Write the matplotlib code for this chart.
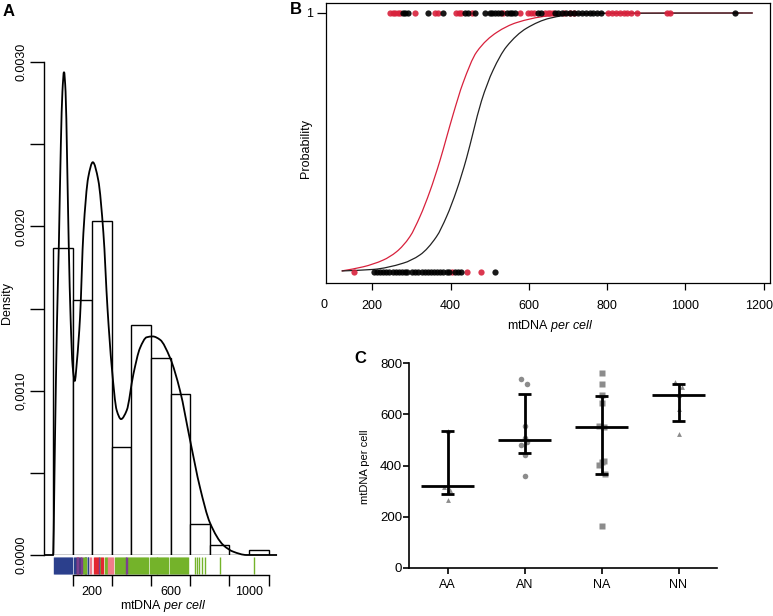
import matplotlib
matplotlib.use("Agg")
import matplotlib.pyplot as plt
from matplotlib.path import Path
from matplotlib.patches import PathPatch
import matplotlib.transforms as mtransforms

plt.rcParams['font.family'] = ['Liberation Sans', 'DejaVu Sans']
plt.rcParams['mathtext.fontset'] = 'custom'
plt.rcParams['mathtext.rm'] = 'Liberation Sans'
plt.rcParams['mathtext.it'] = 'Liberation Sans:italic'

# ---- panel A: histogram of mtDNA per cell + fitted density + rug
bin_edges = [0, 100, 200, 300, 400, 500, 600, 700, 800, 900, 1000, 1100]
densities = [0.00187, 0.00155, 0.00203, 0.00066, 0.00140, 0.00120, 0.00098,
             0.00019, 0.00006, 0.0, 0.00003]
dens_x = [-46, 0, 10, 20, 30, 40, 48, 56, 64, 72, 80, 90, 100, 111, 122, 138,
          155, 180, 203, 231, 257, 278, 300, 325, 347, 376, 410, 444, 478,
          509, 546, 597, 648, 699, 750, 801, 869, 920, 988, 1143]
dens_y = [0.0, 0.0, 0.0007, 0.0014, 0.0019, 0.0025, 0.00282, 0.00294, 0.00282,
          0.0024, 0.0019, 0.00143, 0.00115, 0.00106, 0.00118, 0.00145,
          0.00196, 0.0023, 0.00239, 0.00228, 0.00196, 0.0015, 0.00114,
          0.00088, 0.000827, 0.00088, 0.0011, 0.00126, 0.001325, 0.00133,
          0.00131, 0.0012, 0.001, 0.0007, 0.00041, 0.000195, 0.00006,
          0.00002, 0.0, 0.0]

rug_blue = [5, 10, 15, 20, 25, 30, 35, 40, 45, 50, 55, 60, 65, 70, 75, 80, 85,
            90, 95, 108, 112, 116, 134, 138, 165, 170, 176, 181]
rug_purple = [121, 126, 143, 147, 236, 370, 378]
rug_red = [124, 129, 145, 208, 213, 218, 223, 228, 246, 251, 256]
rug_pink = [188, 192, 280, 285, 290, 295, 300, 305]
rug_green = [152, 157, 161, 168, 233, 240, 263, 268, 273, 318, 323, 328, 333,
             338, 343, 348, 353, 358, 363, 368, 374, 380, 386, 391, 400, 405,
             410, 415, 420, 425, 430, 435, 440, 445, 450, 455, 460, 465, 470,
             475, 480, 485, 493, 498, 503, 508, 513, 518, 523, 528, 533, 538,
             543, 548, 553, 558, 563, 568, 573, 578, 583, 588, 595, 604, 609,
             614, 619, 624, 629, 634, 639, 644, 649, 654, 659, 664, 669, 674,
             679, 684, 689, 723, 735, 747, 759, 774, 850, 1026]

# ---- panel B: logistic fits, observations at 0 / 1
red_top = [245, 252, 258, 265, 271, 309, 360, 368, 415, 422, 428, 454, 535,
           577, 598, 605, 612, 641, 648, 655, 662, 690, 705, 715, 802, 812,
           822, 832, 842, 852, 862, 877, 953, 960]
red_bottom = [153, 405, 442, 477]
black_top = [278, 284, 291, 343, 380, 437, 445, 462, 488, 500, 507, 514, 521,
             528, 545, 552, 558, 565, 624, 632, 668, 675, 685, 695, 705, 715,
             725, 735, 745, 755, 765, 775, 785, 1126]
black_bottom = [205, 212, 220, 228, 236, 244, 252, 260, 268, 276, 284, 290,
                302, 310, 318, 326, 334, 342, 350, 358, 366, 374, 382, 390,
                397, 412, 420, 428, 513]
red_curve_x = [122, 177, 228, 262, 296, 322, 347, 373, 390, 407, 432, 467,
               518, 569, 645, 720, 800, 1172]
red_curve_p = [0.004, 0.020, 0.046, 0.078, 0.136, 0.214, 0.31, 0.43, 0.52,
               0.61, 0.73, 0.85, 0.925, 0.963, 0.988, 0.996, 0.999, 1.0]
black_curve_x = [122, 203, 279, 322, 364, 390, 416, 441, 458, 479, 509, 543,
                 594, 654, 722, 800, 1172]
black_curve_p = [0.004, 0.010, 0.034, 0.066, 0.136, 0.214, 0.317, 0.44,
                 0.54, 0.66, 0.78, 0.87, 0.941, 0.980, 0.996, 0.999, 1.0]

# ---- panel C: mtDNA per cell by group
groups = ['AA', 'AN', 'NA', 'NN']
aa_vals = [265, 304, 317, 536]
an_vals = [736, 718, 554, 509, 492, 481, 440, 359]
na_vals = [760, 718, 675, 643, 554, 549, 419, 415, 402, 365, 165]
nn_vals = [727, 708, 675, 619, 523]
aa_jit = [0.0, 0.03, -0.04, 0.0]
an_jit = [-0.04, 0.03, 0.0, 0.0, 0.03, -0.04, 0.0, 0.0]
na_jit = [0.0, 0.0, 0.0, 0.0, -0.03, 0.03, 0.03, 0.0, -0.03, 0.04, 0.0]
nn_jit = [-0.04, 0.04, 0.0, 0.0, 0.0]
centers = [320, 500, 550, 675]
lows = [290, 450, 368, 575]
highs = [535, 678, 672, 718]

W, H = 773, 616
RED = '#d8213c'


def rect(l, t, r, b):
    return [l / W, 1 - b / H, (r - l) / W, (b - t) / H]


def ftxt(px, py, s, **kw):
    fig.text(px / W, 1 - py / H, s, ha='center', va='center', **kw)


def smooth_line(ax, xs, ys, **kw):
    # draw a smooth (monotone cubic) curve through the read points
    n = len(xs)
    h = [xs[k + 1] - xs[k] for k in range(n - 1)]
    dl = [(ys[k + 1] - ys[k]) / h[k] for k in range(n - 1)]
    d = [dl[0]] + [0.0] * (n - 2) + [dl[-1]]
    for k in range(1, n - 1):
        if dl[k - 1] * dl[k] > 0:
            w1 = 2 * h[k] + h[k - 1]
            w2 = h[k] + 2 * h[k - 1]
            d[k] = (w1 + w2) / (w1 / dl[k - 1] + w2 / dl[k])
    verts = [(xs[0], ys[0])]
    codes = [Path.MOVETO]
    for k in range(n - 1):
        verts += [(xs[k] + h[k] / 3, ys[k] + d[k] * h[k] / 3),
                  (xs[k + 1] - h[k] / 3, ys[k + 1] - d[k + 1] * h[k] / 3),
                  (xs[k + 1], ys[k + 1])]
        codes += [Path.CURVE4] * 3
    ax.add_patch(PathPatch(Path(verts, codes), facecolor='none', **kw))


fig = plt.figure(figsize=(W / 100, H / 100), dpi=100)

# panel A
ax_a = fig.add_axes(rect(44, 62, 280, 555))
ax_a.bar(bin_edges[:-1], densities, width=100, align='edge',
         facecolor='white', edgecolor='black', lw=1.0)
smooth_line(ax_a, dens_x, dens_y, edgecolor='black', lw=1.3, clip_on=False)
ax_a.set_xlim(-46, 1158)
ax_a.set_ylim(0, 0.003)
for s in ['top', 'right', 'bottom']:
    ax_a.spines[s].set_visible(False)
ax_a.spines['left'].set_linewidth(1.0)
ax_a.set_xticks([])
ax_a.set_yticks([0, 0.0005, 0.001, 0.0015, 0.002, 0.0025, 0.003])
ax_a.set_yticklabels(['0.0000', '', '0,0010', '', '0.0020', '', '0.0030'],
                     rotation=90, va='center')
ax_a.tick_params(axis='y', length=10, width=1.0, labelsize=9, pad=2)

ax_r = fig.add_axes(rect(44, 557, 280, 575))
for vals, col in [(rug_blue, '#2b3f8c'), (rug_green, '#74b32a'),
                  (rug_red, '#e3262f'), (rug_pink, '#f07c8a'),
                  (rug_purple, '#7b3f8f')]:
    ax_r.vlines(vals, 0.05, 1.0, colors=col, lw=1.0)
ax_r.set_xlim(-46, 1158)
ax_r.set_ylim(0, 1)
for s in ['top', 'right', 'left']:
    ax_r.spines[s].set_visible(False)
ax_r.spines['bottom'].set_bounds(100, 1100)
ax_r.spines['bottom'].set_linewidth(1.0)
ax_r.set_yticks([])
ax_r.set_xticks([100, 300, 500, 700, 900, 1100])
ax_r.set_xticklabels([''] * 6)
ax_r.set_xticks([200, 600, 1000], minor=True)
ax_r.set_xticklabels(['200', '600', '1000'], minor=True)
ax_r.tick_params(axis='x', which='major', length=8, width=1.0)
ax_r.tick_params(axis='x', which='minor', length=0, pad=8, labelsize=9)
ftxt(163, 606, r'mtDNA $\mathit{per\ cell}$', fontsize=9)
ftxt(7, 303, 'Density', fontsize=9, rotation=90)
ftxt(9, 11, 'A', fontsize=12, fontweight='bold')

# panel B
ax_b = fig.add_axes(rect(326, 3, 770, 283))
smooth_line(ax_b, red_curve_x, red_curve_p, edgecolor=RED, lw=0.9)
smooth_line(ax_b, black_curve_x, black_curve_p, edgecolor='#222222', lw=0.9)
ax_b.plot(red_top, [1] * len(red_top), 'o', ms=4.5, color=RED, mec='none', alpha=0.9)
ax_b.plot(red_bottom, [0] * len(red_bottom), 'o', ms=4.5, color=RED, mec='none', alpha=0.9)
ax_b.plot(black_top, [1] * len(black_top), 'o', ms=4.5, color='black', mec='none', alpha=0.9)
ax_b.plot(black_bottom, [0] * len(black_bottom), 'o', ms=4.5, color='black', mec='none', alpha=0.9)
ax_b.set_xlim(82, 1216)
ax_b.set_ylim(-0.0425, 1.0386)
for s in ax_b.spines.values():
    s.set_linewidth(0.9)
ax_b.set_xticks([200, 400, 600, 800, 1000, 1200])
ax_b.tick_params(axis='x', length=5, width=0.9, labelsize=9, pad=7)
last = ax_b.get_xticklabels()[-1]
last.set_transform(last.get_transform() +
                   mtransforms.ScaledTranslation(-5 / 100, 0, fig.dpi_scale_trans))
ax_b.set_yticks([1])
ax_b.set_yticklabels(['1'])
ax_b.tick_params(axis='y', length=6.5, width=0.9, labelsize=9, pad=3)
ftxt(324, 305, '0', fontsize=9)
ftxt(306, 148, 'Probability', fontsize=9, rotation=90)
ftxt(550, 326, r'mtDNA $\mathit{per\ cell}$', fontsize=9)
ftxt(296, 9, 'B', fontsize=12, fontweight='bold')

# panel C
ax_c = fig.add_axes(rect(409, 363, 717, 568))
grey = '#8c8c8c'
for i, (vals, jit, mk, ms) in enumerate([(aa_vals, aa_jit, '^', 3.5),
                                         (an_vals, an_jit, 'o', 4.0),
                                         (na_vals, na_jit, 's', 3.8),
                                         (nn_vals, nn_jit, '^', 3.5)]):
    ax_c.plot([i + j for j in jit], vals, mk, ms=ms, color=grey, mec='none')
pos = list(range(len(groups)))
ax_c.hlines(centers, [p - 0.35 for p in pos], [p + 0.35 for p in pos],
            color='black', lw=2.0)
ax_c.vlines(pos, lows, highs, color='black', lw=2.0)
ax_c.hlines(lows, [p - 0.08 for p in pos], [p + 0.08 for p in pos],
            color='black', lw=2.0)
ax_c.hlines(highs, [p - 0.08 for p in pos], [p + 0.08 for p in pos],
            color='black', lw=2.0)
ax_c.set_xlim(-0.5, 3.5)
ax_c.set_ylim(0, 800)
ax_c.spines['top'].set_visible(False)
ax_c.spines['right'].set_visible(False)
ax_c.spines['left'].set_linewidth(1.2)
ax_c.spines['bottom'].set_linewidth(1.2)
ax_c.set_xticks(pos)
ax_c.set_xticklabels(groups)
ax_c.set_yticks([0, 200, 400, 600, 800])
ax_c.tick_params(axis='x', length=4, width=1.2, labelsize=9, pad=4)
ax_c.tick_params(axis='y', length=4, width=1.2, labelsize=9.5, pad=1)
ftxt(365, 467, 'mtDNA per cell', fontsize=8, rotation=90)
ftxt(360, 358, 'C', fontsize=12, fontweight='bold')

fig.savefig('out.png', dpi=100)
